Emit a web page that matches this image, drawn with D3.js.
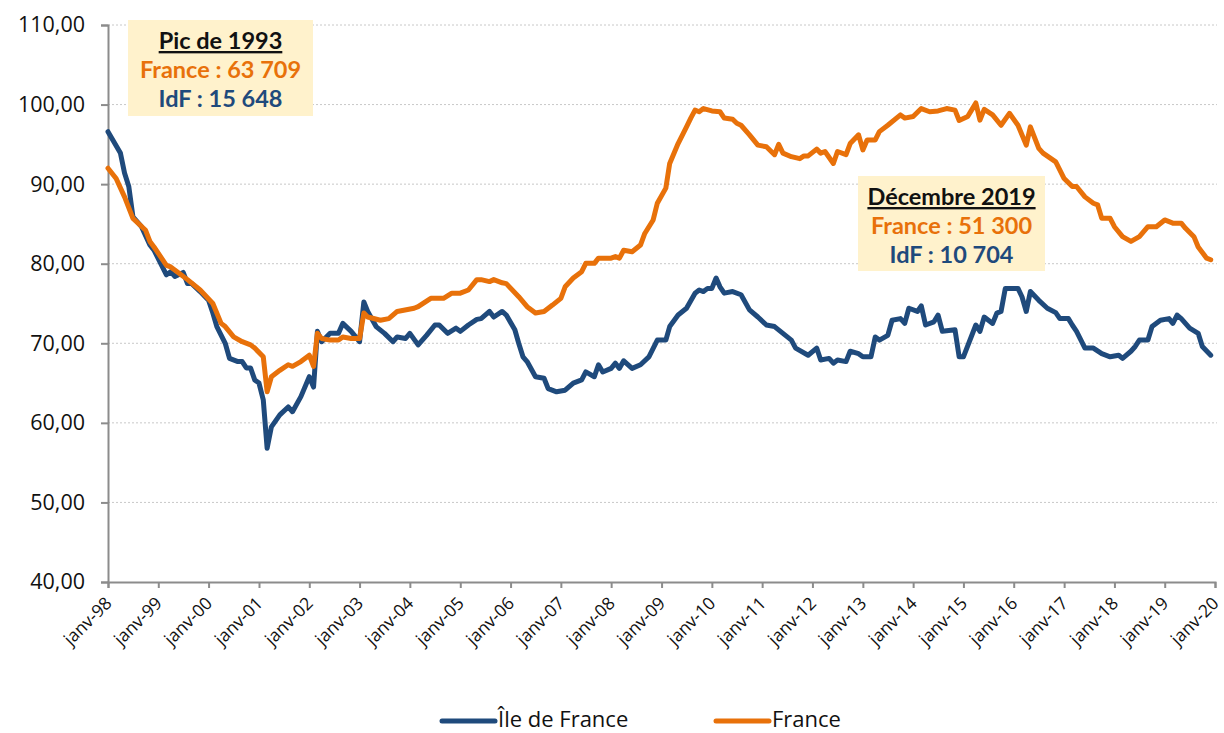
<!DOCTYPE html>
<html><head><meta charset="utf-8">
<script src="https://cdn.jsdelivr.net/npm/d3@7"></script>
<style>
html,body{margin:0;padding:0;background:#fff;}
svg{display:block;}
</style></head>
<body>
<svg id="chart" width="1224" height="733"></svg>
<script>
// ---- DATA ----
const seriesNames = ["Île de France", "France"];
const seriesColors = ["#1F4A7C", "#E8710A"];
const yTicks = [40, 50, 60, 70, 80, 90, 100, 110];
const xTickYears = d3.range(1998, 2021);

const idfSeries = [
["1998-01",96.6],["1998-04",93.9],["1998-05",91.4],["1998-06",89.7],["1998-07",85.9],["1998-09",84.65],["1998-11",82.35],["1998-12",81.7],
["1999-03",78.6],["1999-04",79.0],["1999-05",78.4],["1999-07",78.9],["1999-08",77.5],["1999-09",77.5],["1999-11",76.5],
["2000-01",75.4],["2000-02",73.8],["2000-03",72.1],["2000-05",70.0],["2000-06",68.1],["2000-08",67.7],["2000-09",67.7],["2000-10",66.9],["2000-11",66.9],["2000-12",65.4],
["2001-01",65.0],["2001-02",62.9],["2001-03",56.8],["2001-04",59.5],["2001-06",61.0],["2001-08",62.0],["2001-09",61.4],["2001-11",63.3],
["2002-01",65.8],["2002-02",64.5],["2002-03",71.5],["2002-04",70.2],["2002-06",71.25],["2002-08",71.25],["2002-09",72.5],["2002-11",71.5],
["2003-01",70.2],["2003-02",75.2],["2003-03",74.0],["2003-05",72.1],["2003-07",71.25],["2003-09",70.2],["2003-10",70.8],["2003-12",70.6],
["2004-01",71.25],["2004-03",69.8],["2004-05",71.0],["2004-07",72.3],["2004-08",72.3],["2004-10",71.25],["2004-12",71.9],
["2005-01",71.5],["2005-03",72.3],["2005-05",73.0],["2005-06",73.1],["2005-08",74.0],["2005-09",73.3],["2005-11",74.0],["2005-12",73.55],
["2006-02",71.7],["2006-03",70.0],["2006-04",68.3],["2006-05",67.7],["2006-07",65.8],["2006-09",65.6],["2006-10",64.3],["2006-12",63.9],
["2007-02",64.1],["2007-04",65.0],["2007-06",65.4],["2007-07",66.4],["2007-09",65.8],["2007-10",67.3],["2007-11",66.4],
["2008-01",66.85],["2008-02",67.5],["2008-03",66.85],["2008-04",67.8],["2008-06",66.85],["2008-08",67.3],["2008-10",68.3],["2008-12",70.4],
["2009-02",70.4],["2009-03",72.1],["2009-05",73.55],["2009-07",74.4],["2009-09",76.3],["2009-10",76.7],["2009-11",76.5],["2009-12",76.9],
["2010-01",76.9],["2010-02",78.2],["2010-03",77.1],["2010-04",76.3],["2010-06",76.5],["2010-08",76.1],["2010-10",74.2],["2010-12",73.3],
["2011-02",72.3],["2011-04",72.1],["2011-06",71.25],["2011-08",70.4],["2011-09",69.4],["2011-12",68.5],
["2012-02",69.4],["2012-03",67.9],["2012-05",68.1],["2012-06",67.5],["2012-07",67.9],["2012-09",67.7],["2012-10",69.0],["2012-12",68.7],
["2013-01",68.3],["2013-03",68.3],["2013-04",70.8],["2013-05",70.4],["2013-07",71.0],["2013-08",72.9],["2013-10",73.1],["2013-11",72.5],["2013-12",74.4],
["2014-02",74.0],["2014-03",74.7],["2014-04",72.3],["2014-06",72.7],["2014-07",73.55],["2014-08",71.5],["2014-11",71.7],["2014-12",68.3],
["2015-01",68.3],["2015-04",72.3],["2015-05",71.5],["2015-06",73.3],["2015-08",72.5],["2015-09",73.8],["2015-10",74.0],["2015-11",76.9],
["2016-02",76.9],["2016-03",75.85],["2016-04",74.0],["2016-05",76.5],["2016-07",75.4],["2016-09",74.4],["2016-11",73.85],["2016-12",73.1],
["2017-02",73.1],["2017-03",72.3],["2017-04",71.5],["2017-06",69.4],["2017-08",69.4],["2017-10",68.7],["2017-12",68.3],
["2018-02",68.5],["2018-03",68.1],["2018-05",69.0],["2018-06",69.6],["2018-07",70.4],["2018-09",70.4],["2018-10",72.1],["2018-12",72.9],
["2019-02",73.1],["2019-03",72.5],["2019-04",73.55],["2019-05",73.1],["2019-07",71.9],["2019-09",71.25],["2019-10",69.6],["2019-12",68.5]
];

const franceSeries = [
["1998-01",92.0],["1998-03",90.7],["1998-05",88.4],["1998-07",85.7],["1998-10",84.2],["1998-11",82.8],["1998-12",82.1],
["1999-03",79.8],["1999-04",79.6],["1999-06",78.8],["1999-08",78.0],["1999-11",76.7],
["2000-02",75.0],["2000-04",72.5],["2000-05",72.1],["2000-07",70.8],["2000-09",70.2],["2000-11",69.8],["2000-12",69.4],
["2001-02",68.3],["2001-03",63.9],["2001-04",65.8],["2001-06",66.6],["2001-08",67.3],["2001-09",67.1],["2001-11",67.7],
["2002-01",68.5],["2002-02",67.1],["2002-03",71.25],["2002-04",70.6],["2002-06",70.4],["2002-08",70.4],["2002-09",70.8],["2002-11",70.6],
["2003-01",70.6],["2003-02",73.8],["2003-03",73.3],["2003-06",72.9],["2003-08",73.1],["2003-10",74.0],
["2004-02",74.4],["2004-03",74.6],["2004-06",75.65],["2004-09",75.65],["2004-11",76.3],
["2005-01",76.3],["2005-03",76.7],["2005-05",78.0],["2005-06",78.0],["2005-08",77.75],["2005-09",78.0],["2005-11",77.6],["2005-12",77.5],
["2006-03",75.85],["2006-05",74.6],["2006-07",73.8],["2006-09",74.0],["2006-11",74.8],
["2007-01",75.65],["2007-02",77.1],["2007-04",78.2],["2007-06",79.0],["2007-07",80.05],["2007-09",80.05],["2007-10",80.7],
["2008-01",80.7],["2008-02",80.9],["2008-03",80.7],["2008-04",81.7],["2008-06",81.5],["2008-08",82.35],["2008-09",83.8],["2008-11",85.5],["2008-12",87.6],
["2009-02",89.5],["2009-03",92.6],["2009-05",95.1],["2009-07",97.2],["2009-08",98.3],["2009-09",99.3],["2009-10",99.1],["2009-11",99.5],
["2010-01",99.2],["2010-03",99.1],["2010-04",98.3],["2010-06",98.15],["2010-07",97.65],["2010-08",97.4],["2010-10",96.2],["2010-12",94.9],
["2011-02",94.7],["2011-04",93.7],["2011-05",95.0],["2011-06",93.9],["2011-08",93.45],["2011-10",93.2],["2011-11",93.55],["2011-12",93.55],
["2012-02",94.4],["2012-03",93.9],["2012-04",94.1],["2012-06",92.6],["2012-07",94.1],["2012-09",93.7],["2012-10",95.1],["2012-12",96.2],
["2013-01",94.3],["2013-02",95.55],["2013-04",95.55],["2013-05",96.6],["2013-07",97.4],["2013-10",98.7],["2013-11",98.3],
["2014-01",98.5],["2014-03",99.5],["2014-05",99.1],["2014-07",99.2],["2014-09",99.5],["2014-11",99.3],["2014-12",98.0],
["2015-02",98.5],["2015-03",99.3],["2015-04",100.2],["2015-05",98.05],["2015-06",99.4],["2015-08",98.7],["2015-10",97.4],["2015-12",98.9],
["2016-02",97.4],["2016-04",94.9],["2016-05",97.2],["2016-07",94.5],["2016-08",93.9],["2016-11",92.8],
["2017-01",90.7],["2017-03",89.7],["2017-04",89.7],["2017-06",88.4],["2017-08",87.6],["2017-09",87.4],["2017-10",85.7],["2017-12",85.7],
["2018-01",84.65],["2018-03",83.4],["2018-05",82.8],["2018-07",83.4],["2018-09",84.65],["2018-11",84.65],
["2019-01",85.5],["2019-03",85.1],["2019-05",85.1],["2019-06",84.45],["2019-08",83.4],["2019-09",82.1],["2019-11",80.7],["2019-12",80.5]
];

const noteTitles = ["Pic de 1993", "Décembre 2019"];
const noteFrance = ["France : 63 709", "France : 51 300"];
const noteIdf = ["IdF : 15 648", "IdF : 10 704"];

// ---- CHART ----
const svg = d3.select("#chart");
const parse = d3.timeParse("%Y-%m");
const M = {left:108, right:1215, top:25, bottom:582};
const x = d3.scaleTime().domain([new Date(1998,0,1), new Date(2020,0,1)]).range([M.left, M.right]);
const y = d3.scaleLinear().domain([40,110]).range([M.bottom, M.top]);
const axisColor = "#8C8C8C";
const fr = d3.formatLocale({decimal:",", thousands:" ", grouping:[3], currency:["","€"]});
const fmtY = fr.format(".2f");
const monthFr = ["janv","févr","mars","avr","mai","juin","juil","août","sept","oct","nov","déc"];
const fmtX = d => monthFr[d.getMonth()] + "-" + d3.timeFormat("%y")(d);
const axisFont = "'Open Sans', 'Noto Sans', sans-serif";

// gridlines
svg.append("g").selectAll("line").data(yTicks.filter(v=>v>40)).join("line")
  .attr("x1", M.left).attr("x2", M.right + 2)
  .attr("y1", d=>y(d)).attr("y2", d=>y(d))
  .attr("stroke", "#C8C8C8").attr("stroke-width", 1).attr("stroke-dasharray", "2,2");

// y axis
const yAxis = svg.append("g").attr("transform", `translate(${M.left},0)`)
  .call(d3.axisLeft(y).tickValues(yTicks).tickFormat(fmtY).tickSize(7).tickPadding(16));
yAxis.select(".domain").attr("stroke", axisColor).attr("stroke-width", 2);
yAxis.selectAll(".tick line").attr("stroke", axisColor).attr("stroke-width", 2);
yAxis.selectAll("text").attr("font-family", axisFont).attr("font-size", 21.5).attr("fill", "#111");

// x axis
const xAxis = svg.append("g").attr("transform", `translate(0,${M.bottom})`)
  .call(d3.axisBottom(x).tickValues(xTickYears.map(yr=>new Date(yr,0,1))).tickFormat(fmtX).tickSize(6));
xAxis.select(".domain").attr("stroke", axisColor).attr("stroke-width", 2);
xAxis.selectAll(".tick line").attr("stroke", axisColor).attr("stroke-width", 2);
xAxis.selectAll("text")
  .attr("font-family", axisFont).attr("font-size", 17.5).attr("fill", "#111")
  .attr("text-anchor", "end").attr("x", 0).attr("y", 0).attr("dy", "0.35em")
  .attr("transform", "translate(0,18) rotate(-45)");

// lines
const line = d3.line().x(d=>x(parse(d[0]))).y(d=>y(d[1])).curve(d3.curveLinear);
[idfSeries, franceSeries].forEach((s,i)=>{
  svg.append("path").datum(s).attr("d", line)
    .attr("fill","none").attr("stroke", seriesColors[i]).attr("stroke-width", 5)
    .attr("stroke-linejoin","round").attr("stroke-linecap","round");
});

// annotation boxes
const notes = [
  {x:128, y:20, w:185, h:96},
  {x:858, y:176, w:187, h:95}
];
const noteFont = "'Lato', 'Open Sans', sans-serif";
notes.forEach((n,i)=>{
  const g = svg.append("g");
  g.append("rect").attr("x",n.x).attr("y",n.y).attr("width",n.w).attr("height",n.h).attr("fill","#FFF2CC");
  const cx = n.x + n.w/2;
  g.append("text").attr("x",cx).attr("y",n.y+29).attr("text-anchor","middle")
    .attr("font-family",noteFont).attr("font-weight","bold").attr("font-size",23.5).attr("fill","#111")
    .attr("text-decoration","underline").text(noteTitles[i]);
  g.append("text").attr("x",cx).attr("y",n.y+58).attr("text-anchor","middle")
    .attr("font-family",noteFont).attr("font-weight","bold").attr("font-size",23.5).attr("fill",seriesColors[1]).text(noteFrance[i]);
  g.append("text").attr("x",cx).attr("y",n.y+87).attr("text-anchor","middle")
    .attr("font-family",noteFont).attr("font-weight","bold").attr("font-size",23.5).attr("fill",seriesColors[0]).text(noteIdf[i]);
});

// legend
const legendX = [440, 714];
seriesNames.forEach((name,i)=>{
  const g = svg.append("g").attr("transform", `translate(${legendX[i]},719)`);
  g.append("line").attr("x1",2).attr("x2",55).attr("y1",2).attr("y2",2)
    .attr("stroke",seriesColors[i]).attr("stroke-width",5).attr("stroke-linecap","round");
  g.append("text").attr("x",58).attr("y",0).attr("dy","0.35em")
    .attr("font-family",axisFont).attr("font-size",22).attr("fill","#111").text(name);
});
</script>
</body></html>
